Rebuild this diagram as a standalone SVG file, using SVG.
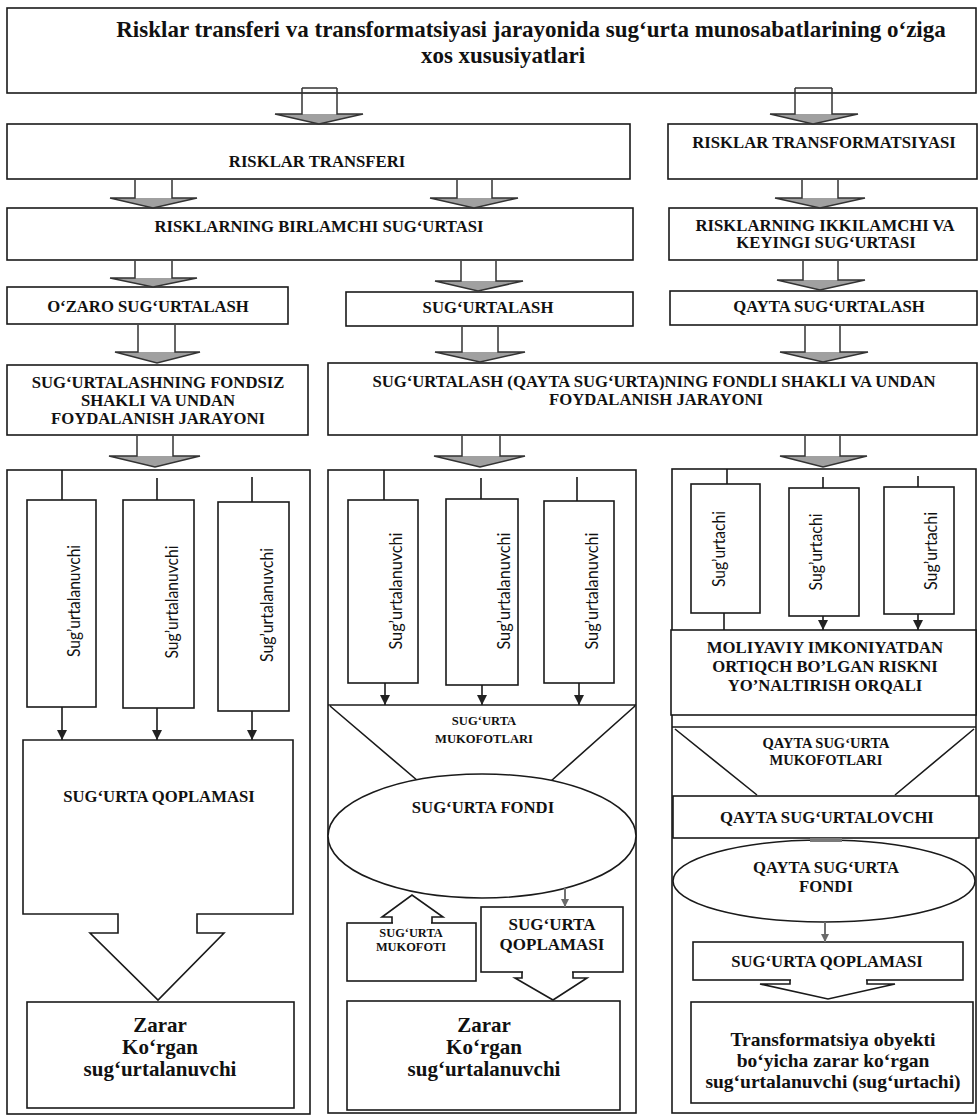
<svg xmlns="http://www.w3.org/2000/svg" width="980" height="1117" viewBox="0 0 980 1117">
<defs>
<style>
.box{fill:#fff;stroke:#1a1a1a;stroke-width:1.6}
.ln{fill:none;stroke:#1a1a1a;stroke-width:1.6}
.ba{fill:none;stroke:#333;stroke-width:1.5;stroke-linejoin:miter}
.hd{fill:#a0a0a0;stroke:none}
.wh{fill:#fff;stroke:none}
.gl{fill:none;stroke:#707070;stroke-width:2}
.t{font-family:"Liberation Serif","Times New Roman",serif;font-weight:bold;fill:#111;text-anchor:middle}
.s17{font-size:16.7px}
.v{font-family:Lato,"Liberation Sans",Arial,sans-serif;font-size:17.5px;fill:#111;text-anchor:middle}
</style>
<marker id="ah" markerWidth="10" markerHeight="10" refX="10" refY="5" orient="auto" markerUnits="userSpaceOnUse"><path d="M0,0 L10,5 L0,10 z" fill="#222"/></marker>
<marker id="ahg" markerWidth="8" markerHeight="8" refX="8" refY="4" orient="auto" markerUnits="userSpaceOnUse"><path d="M0,0 L8,4 L0,8 z" fill="#6a6a6a"/></marker>
</defs>
<rect width="980" height="1117" fill="#fff"/>

<!-- nodes -->
<g id="title">
<rect class="box" x="7" y="8" width="969" height="85"/>
<text class="t" style="font-size:23px" x="531" y="37">Risklar transferi va transformatsiyasi jarayonida sug‘urta munosabatlarining o‘ziga</text>
<text class="t" style="font-size:23px" x="503" y="63">xos xususiyatlari</text>
</g>
<g id="risklar-transferi">
<rect class="box" x="7" y="124" width="623" height="55"/>
<text class="t s17" x="317" y="167">RISKLAR TRANSFERI</text>
</g>
<g id="risklar-transformatsiyasi">
<rect class="box" x="668" y="124" width="309" height="55"/>
<text class="t s17" x="824" y="148">RISKLAR TRANSFORMATSIYASI</text>
</g>
<g id="birlamchi">
<rect class="box" x="7" y="208" width="626" height="52"/>
<text class="t s17" x="319" y="232">RISKLARNING BIRLAMCHI SUG‘URTASI</text>
</g>
<g id="ikkilamchi">
<rect class="box" x="669" y="208" width="308" height="52"/>
<text class="t s17" x="825" y="231">RISKLARNING IKKILAMCHI VA</text>
<text class="t s17" x="826" y="248">KEYINGI SUG‘URTASI</text>
</g>
<g id="ozaro">
<rect class="box" x="7" y="287" width="281" height="37"/>
<text class="t s17" x="148" y="312">O‘ZARO SUG‘URTALASH</text>
</g>
<g id="sugurtalash">
<rect class="box" x="346" y="292" width="287" height="34"/>
<text class="t s17" x="488" y="313">SUG‘URTALASH</text>
</g>
<g id="qayta-sugurtalash">
<rect class="box" x="670" y="291" width="307" height="34"/>
<text class="t s17" x="829" y="312">QAYTA SUG‘URTALASH</text>
</g>
<g id="fondsiz">
<rect class="box" x="7" y="365" width="301" height="70"/>
<text class="t s17" x="158" y="388">SUG‘URTALASHNING FONDSIZ</text>
<text class="t s17" x="158" y="406">SHAKLI VA UNDAN</text>
<text class="t s17" x="158" y="424">FOYDALANISH JARAYONI</text>
</g>
<g id="fondli">
<rect class="box" x="328" y="363" width="649" height="72"/>
<text class="t s17" x="654" y="387">SUG‘URTALASH (QAYTA SUG‘URTA)NING FONDLI SHAKLI VA UNDAN</text>
<text class="t s17" x="656" y="405">FOYDALANISH JARAYONI</text>
</g>

<!-- panels -->
<g id="panel-left">
<rect class="box" x="7" y="470" width="303" height="644"/>
</g>
<g id="panel-middle">
<rect class="box" x="328" y="470" width="308" height="643"/>
</g>
<g id="panel-right">
<rect class="box" x="672" y="469" width="304" height="644"/>
</g>

<!-- left panel -->
<g id="l-sugurtalanuvchi-1">
<rect class="box" x="27" y="500" width="69" height="207"/>
<text class="v" transform="translate(80,601) rotate(-90)" textLength="112" lengthAdjust="spacingAndGlyphs">Sug’urtalanuvchi</text>
</g>
<g id="l-sugurtalanuvchi-2">
<rect class="box" x="123" y="500" width="71" height="208"/>
<text class="v" transform="translate(178,602) rotate(-90)" textLength="113" lengthAdjust="spacingAndGlyphs">Sug’urtalanuvchi</text>
</g>
<g id="l-sugurtalanuvchi-3">
<rect class="box" x="218" y="502" width="71" height="209"/>
<text class="v" transform="translate(273,605) rotate(-90)" textLength="114" lengthAdjust="spacingAndGlyphs">Sug’urtalanuvchi</text>
</g>
<g id="l-qoplama">
<path class="box" d="M23 740 H293 V914 H197 V933 H224 L158 1000 L90 933 H118 V914 H23 Z"/>
<text class="t s17" x="159" y="802">SUG‘URTA QOPLAMASI</text>
</g>
<g id="l-zarar">
<rect class="box" x="27" y="1002" width="267" height="106"/>
<text class="t" style="font-size:21px" x="160" y="1032">Zarar</text>
<text class="t" style="font-size:21px" x="160" y="1054">Ko‘rgan</text>
<text class="t" style="font-size:21px" x="160" y="1076">sug‘urtalanuvchi</text>
</g>

<!-- middle panel -->
<g id="m-sugurtalanuvchi-1">
<rect class="box" x="348" y="500" width="70" height="183"/>
<text class="v" transform="translate(402,591) rotate(-90)" textLength="117" lengthAdjust="spacingAndGlyphs">Sug’urtalanuvchi</text>
</g>
<g id="m-sugurtalanuvchi-2">
<rect class="box" x="446" y="499" width="72" height="186"/>
<text class="v" transform="translate(510,591) rotate(-90)" textLength="117" lengthAdjust="spacingAndGlyphs">Sug’urtalanuvchi</text>
</g>
<g id="m-sugurtalanuvchi-3">
<rect class="box" x="544" y="501" width="70" height="182"/>
<text class="v" transform="translate(598,591) rotate(-90)" textLength="117" lengthAdjust="spacingAndGlyphs">Sug’urtalanuvchi</text>
</g>
<g id="m-mukofotlari">
<path class="ln" d="M328 705 H636 M330 706 L418 781 M635 706 L551 781"/>
<text class="t" style="font-size:12.6px" x="484" y="725">SUG‘URTA</text>
<text class="t" style="font-size:12.6px" x="484" y="743">MUKOFOTLARI</text>
</g>
<g id="m-fond">
<ellipse class="box" cx="482" cy="836" rx="154" ry="62"/>
<text class="t s17" x="483" y="813">SUG‘URTA FONDI</text>
</g>
<g id="m-mukofoti">
<rect class="box" x="347" y="923" width="129" height="58"/>
<text class="t" style="font-size:12.4px" x="411" y="937">SUG‘URTA</text>
<text class="t" style="font-size:12.4px" x="411" y="951">MUKOFOTI</text>
</g>
<g id="m-qoplama">
<rect class="box" x="481" y="907" width="142" height="65"/>
<text class="t" style="font-size:17px" x="552" y="930">SUG‘URTA</text>
<text class="t" style="font-size:17px" x="552" y="950">QOPLAMASI</text>
</g>
<g id="m-zarar">
<rect class="box" x="347" y="1001" width="273" height="109"/>
<text class="t" style="font-size:21px" x="484" y="1032">Zarar</text>
<text class="t" style="font-size:21px" x="484" y="1054">Ko‘rgan</text>
<text class="t" style="font-size:21px" x="484" y="1076">sug‘urtalanuvchi</text>
</g>

<!-- right panel -->
<g id="r-sugurtachi-1">
<rect class="box" x="691" y="484" width="69" height="129"/>
<text class="v" transform="translate(725,549) rotate(-90)" textLength="76" lengthAdjust="spacingAndGlyphs">Sug’urtachi</text>
</g>
<g id="r-sugurtachi-2">
<rect class="box" x="789" y="488" width="70" height="128"/>
<text class="v" transform="translate(822,552) rotate(-90)" textLength="77" lengthAdjust="spacingAndGlyphs">Sug’urtachi</text>
</g>
<g id="r-sugurtachi-3">
<rect class="box" x="884" y="487" width="70" height="127"/>
<text class="v" transform="translate(937,551) rotate(-90)" textLength="78" lengthAdjust="spacingAndGlyphs">Sug’urtachi</text>
</g>
<g id="r-moliyaviy">
<rect class="box" x="671" y="630" width="305" height="85"/>
<text class="t s17" x="825" y="653">MOLIYAVIY IMKONIYATDAN</text>
<text class="t s17" x="825" y="672">ORTIQCH BO’LGAN RISKNI</text>
<text class="t s17" x="825" y="691">YO’NALTIRISH ORQALI</text>
</g>
<g id="r-mukofotlari">
<path class="ln" d="M672 727 H976 M675 729 L757 795 M974 729 L895 795"/>
<text class="t" style="font-size:14.5px" x="826" y="748">QAYTA SUG‘URTA</text>
<text class="t" style="font-size:14.5px" x="826" y="765">MUKOFOTLARI</text>
</g>
<g id="r-qayta-sugurtalovchi">
<rect class="box" x="673" y="796" width="306" height="42"/>
<text class="t s17" x="827" y="823">QAYTA SUG‘URTALOVCHI</text>
</g>
<g id="r-fond">
<ellipse class="box" cx="824" cy="881" rx="151" ry="41"/>
<text class="t s17" x="826" y="873">QAYTA SUG‘URTA</text>
<text class="t s17" x="826" y="892">FONDI</text>
</g>
<g id="r-qoplama">
<rect class="box" x="693" y="942" width="270" height="38"/>
<text class="t s17" x="827" y="967">SUG‘URTA QOPLAMASI</text>
</g>
<g id="r-zarar">
<rect class="box" x="691" y="1002" width="282" height="101"/>
<text class="t" style="font-size:19.5px" x="833" y="1046">Transformatsiya obyekti</text>
<text class="t" style="font-size:19.5px" x="833" y="1067">bo‘yicha zarar ko‘rgan</text>
<text class="t" style="font-size:19.5px" x="833" y="1088">sug‘urtalanuvchi (sug‘urtachi)</text>
</g>

<!-- connectors -->
<g id="connectors">
<polygon class="hd" points="275,114 319,124 363,114"/>
<path class="ba" d="M302 88 H337 M302 88 V114 H275 L319 124 L363 114 H337 V88"/>
<polygon class="hd" points="770,114 813,124 858,114"/>
<path class="ba" d="M795 88 H832 M795 88 V114 H770 L813 124 L858 114 H832 V88"/>

<polygon class="hd" points="110,198 153,208 197,198"/>
<path class="ba" d="M135 180 V198 H110 L153 208 L197 198 H172 V180"/>
<polygon class="hd" points="430,198 474,208 518,198"/>
<path class="ba" d="M457 180 V198 H430 L474 208 L518 198 H492 V180"/>
<polygon class="hd" points="775,198 820,208 865,198"/>
<path class="ba" d="M802 180 V198 H775 L820 208 L865 198 H838 V180"/>

<polygon class="hd" points="110,278 153,287 197,278"/>
<path class="ba" d="M135 261 V278 H110 L153 287 L197 278 H172 V261"/>
<polygon class="hd" points="435,281 478,291 523,281"/>
<path class="ba" d="M461 261 V281 H435 L478 291 L523 281 H496 V261"/>
<polygon class="hd" points="777,280 820,290 865,280"/>
<path class="ba" d="M803 261 V280 H777 L820 290 L865 280 H838 V261"/>

<polygon class="hd" points="115,352 157,363 200,352"/>
<path class="ba" d="M138 325 V352 H115 L157 363 L200 352 H175 V325"/>
<polygon class="hd" points="435,352 480,362 525,352"/>
<path class="ba" d="M462 327 V352 H435 L480 362 L525 352 H498 V327"/>
<polygon class="hd" points="780,352 823,362 868,352"/>
<path class="ba" d="M805 326 V352 H780 L823 362 L868 352 H840 V326"/>

<polygon class="hd" points="109,456 155,467 200,456"/>
<path class="ba" d="M137 436 V456 H109 L155 467 L200 456 H173 V436"/>
<polygon class="hd" points="434,456 480,467 525,456"/>
<path class="ba" d="M462 436 V456 H434 L480 467 L525 456 H500 V436"/>
<polygon class="hd" points="780,456 823,467 867,456"/>
<path class="ba" d="M805 436 V456 H780 L823 467 L867 456 H840 V436"/>

<path class="ln" d="M62 470 V500 M157 478 V500 M252 477 V502"/>
<line class="ln" x1="62" y1="707" x2="62" y2="740" marker-end="url(#ah)"/>
<line class="ln" x1="157" y1="708" x2="157" y2="740" marker-end="url(#ah)"/>
<line class="ln" x1="252" y1="711" x2="252" y2="740" marker-end="url(#ah)"/>

<path class="ln" d="M384 470 V500 M481 478 V499 M577 477 V501"/>
<line class="ln" x1="385" y1="683" x2="385" y2="705" marker-end="url(#ah)"/>
<line class="ln" x1="482" y1="685" x2="482" y2="705" marker-end="url(#ah)"/>
<line class="ln" x1="579" y1="683" x2="579" y2="705" marker-end="url(#ah)"/>
<line class="gl" x1="565" y1="888" x2="565" y2="907" marker-end="url(#ahg)"/>
<polygon class="wh" points="393,925 393,917 382,917 412,895 443,917 431,917 431,925"/>
<path class="ln" d="M392 923 V917 H382 L412 895 L443 917 H432 V923"/>
<polygon class="wh" points="523,970 523,978 515,978 553,1000 587,978 572,978 572,970"/>
<path class="ln" d="M522 972 V978 H515 L553 1000 L587 978 H573 V972"/>

<path class="ln" d="M727 469 V484 M823 477 V488 M918 476 V487"/>
<line class="ln" x1="724" y1="613" x2="724" y2="630"/>
<line class="ln" x1="823" y1="616" x2="823" y2="630" marker-end="url(#ah)"/>
<line class="ln" x1="918" y1="614" x2="918" y2="630" marker-end="url(#ah)"/>
<rect x="810" y="838" width="32" height="4" fill="#7a7a7a"/>
<line class="gl" x1="825" y1="922" x2="825" y2="942" marker-end="url(#ahg)"/>
<polygon class="wh" points="791,978 791,984 760,984 828,999 895,984 866,984 866,978"/>
<path class="ln" d="M790 980 V984 H760 L828 999 L895 984 H867 V980"/>
</g>
</svg>
